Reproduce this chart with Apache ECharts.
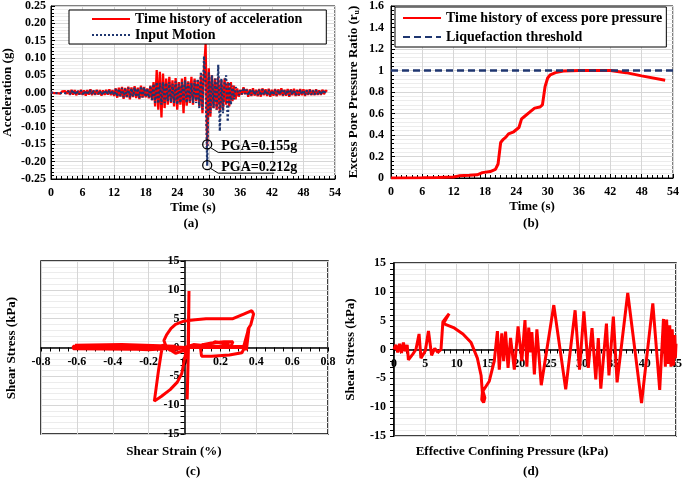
<!DOCTYPE html>
<html><head><meta charset="utf-8">
<script src="https://cdn.jsdelivr.net/npm/echarts@6/dist/echarts.min.js"></script>
<style>html,body{margin:0;padding:0;background:#fff}#c{width:685px;height:480px}</style>
</head><body><div id="c"></div>
<script>
// ---------- DATA ----------
const accDt = 0.3; // sampling step of digitised records (s)
const accRed = [
0, 0.002, -0.002, 0.003, -0.002, 0.002, -0.003, 0.003, -0.002, 0.004, -0.004,
0.006,-0.007,0.008,-0.006,0.007,-0.008,0.005,-0.006,0.008,-0.007,
0.006,-0.009,0.007,-0.006,0.009,-0.008,0.006,-0.007,0.008,-0.006,
0.007,-0.009,0.006,-0.007,0.008,-0.006,0.009,-0.008,0.007,-0.010,
0.012,-0.015,0.014,-0.012,0.016,-0.018,0.013,-0.014,0.017,-0.02,
0.015,-0.013,0.018,-0.016,0.014,-0.019,0.02,-0.015,0.016,-0.014,
0.012,-0.017,0.02,-0.022,
0.03,-0.04,0.065,-0.05,0.06,-0.072,0.055,-0.045,0.04,-0.035,
0.045,-0.03,0.035,-0.04,0.042,-0.05,0.03,-0.035,0.04,-0.06,
0.045,-0.038,0.032,-0.03,0.045,-0.035,0.04,-0.025,0.035,-0.04,
0.05,-0.06,0.07,0.14,-0.155,0.07,-0.07,
0.05,-0.045,0.04,-0.05,0.045,-0.055,0.035,-0.05,0.04,-0.035,0.03,-0.04,0.03,-0.025,0.02,-0.02,
0.012,-0.012,0.008,-0.006,0.015,-0.005,0.01,-0.012,0.009,-0.01,
0.012,-0.009,0.008,-0.011,0.01,-0.012,0.012,-0.008,0.009,-0.01,
0.011,-0.012,0.008,-0.009,0.01,-0.011,0.009,-0.008,0.012,-0.01,
0.008,-0.009,0.01,-0.012,0.009,-0.008,0.011,-0.01,0.008,-0.009,
0.01,-0.008,0.009,-0.01,0.008,-0.007,0.009,-0.008,0.007,-0.008,
0.009,-0.007,0.006,-0.007,0.008,-0.005,0.006,0.003
];
const accInput = [
0, 0.001, -0.001, 0.002, -0.002, 0.001, -0.002, 0.002, -0.001, 0.002, -0.003,
0.004,-0.005,0.006,-0.004,0.005,-0.006,0.004,-0.005,0.006,-0.005,
0.004,-0.006,0.005,-0.004,0.007,-0.006,0.005,-0.005,0.006,-0.004,
0.005,-0.007,0.004,-0.005,0.006,-0.005,0.007,-0.006,0.005,-0.008,
0.01,-0.012,0.011,-0.01,0.013,-0.014,0.01,-0.012,0.014,-0.015,
0.012,-0.011,0.015,-0.013,0.012,-0.016,0.018,-0.014,0.015,-0.013,
0.012,-0.015,0.02,-0.022,
0.025,-0.03,0.03,-0.032,0.028,-0.035,0.03,-0.03,0.028,-0.025,
0.03,-0.028,0.025,-0.03,0.032,-0.035,0.025,-0.03,0.03,-0.025,
0.035,-0.03,0.028,-0.025,0.027,-0.03,0.035,-0.03,0.04,-0.045,
0.06,-0.05,0.105,0.02,-0.212,0.06,-0.06,
0.05,-0.045,0.04,-0.05,0.08,-0.112,0.04,-0.06,0.03,0.05,-0.085,0.03,-0.035,0.02,-0.02,0.015,
0.008,-0.008,0.006,-0.005,0.014,-0.004,0.008,-0.009,0.007,-0.008,
0.009,-0.007,0.006,-0.008,0.008,-0.009,0.009,-0.006,0.007,-0.008,
0.008,-0.009,0.006,-0.007,0.008,-0.008,0.007,-0.006,0.009,-0.008,
0.006,-0.007,0.008,-0.009,0.007,-0.006,0.008,-0.008,0.006,-0.007,
0.008,-0.006,0.007,-0.008,0.006,-0.005,0.007,-0.006,0.005,-0.006,
0.007,-0.005,0.005,-0.006,0.006,-0.004,0.005,0.002
];
const pgaTime = [29.7, 29.7];
const pgaAcc = [-0.15, -0.21];
const pgaLabels = ['PGA=0.155g', 'PGA=0.212g'];

const ruTime = [0,6,9,12,13,15,16.5,17.5,19,20,20.5,21,21.5,22,22.5,23.5,24.5,25,25.5,26.5,27.5,28.5,29,29.5,30,30.5,31.5,33,36,42,45,48,52.5];
const ruValue = [0,0.003,0.005,0.01,0.02,0.025,0.03,0.05,0.06,0.08,0.13,0.33,0.36,0.38,0.41,0.43,0.47,0.55,0.57,0.61,0.65,0.66,0.68,0.85,0.93,0.96,0.98,0.995,1.0,1.0,0.98,0.95,0.91];
const thresholdTime = [0, 54];
const thresholdValue = [1, 1];

const strainC = [0,-0.3,-0.62,-0.62,-0.3,-0.05,-0.35,-0.61,-0.5,-0.2,0,-0.28,-0.6,-0.45,-0.15,0,
0.02,0.025,0.022,0.015,0.02,0,
-0.05,-0.1,-0.115,-0.1,-0.075,-0.05,0,0.06,0.12,0.2,0.27,0.33,0.375,0.385,0.37,0.355,0.345,0.335,0.32,0.25,0.15,0.095,0.09,0.1,0.15,0.22,0.27,0.26,0.18,0.14,0.17,0.25,0.2,0.12,0.05,0,
0.34,0.36,0.345,0.355,0.33,0.2,0.05,0,
-0.08,-0.12,-0.13,-0.145,-0.158,-0.168,-0.13,-0.08,-0.04,-0.015,0,0.01,0];
const stressC = [0,0.3,0.2,-0.2,-0.3,0.2,0.5,0.4,0,-0.4,0,0.2,0.1,0.4,0.3,0,
0,9.8,0,-9,-2,-0.5,
-1,0,1.2,2.2,3.3,4.0,4.6,4.8,5,5,5,5.8,6.4,5.8,4,3.2,1.5,0,-0.9,-1.3,-1.5,-1.5,-0.3,0.5,0.8,1,1,0.3,0.1,0.5,1,0.5,0.2,0.3,0.5,0,
0,3.5,-0.5,3,0.2,0.1,0,0,
-0.5,0.5,-1,-4,-7,-9.3,-8.5,-7.3,-6,-4.5,-2,-0.5,0];

const pressD = [0,0.3,0.6,0.9,1.2,1.5,1.8,2.1,2.3,3,3.5,4,4.3,5,5.5,6,6.5,7,7.5,7.8,8.3,8.8,8.3,7.9,9.5,11,12.3,13.3,13.9,14.1,14,14.3,14.5,14.2,15.2,16,16.5,16.8,17.2,17.5,17.8,18.2,18.6,19.2,19.8,20.4,20.9,21.2,21.5,21.8,22,22.4,22.8,23.5,25.5,27.4,28.9,29.6,30.3,31,31.6,32.2,32.6,33,33.9,34.3,35,35.6,37.3,39.5,41.3,42.4,43,43.3,43.5,43.8,44,44.2,44.4,44.6,44.8,44.9,45];
const stressD = [0,0.8,-0.5,1,-0.6,1.2,-0.3,0.8,-1.8,-0.8,0,2.7,-1.5,-0.2,3.2,-1,0.2,-0.5,0,4.8,5.5,6.2,5.3,4.5,3.8,2.7,1.2,-1.5,-4.5,-7.5,-8.7,-9.2,-8.4,-7.2,-5.5,-2,3.2,-3.5,2.8,-2,3.1,-3.2,2,-3.5,4,-2,5.1,-3,3.8,-0.5,3,-4.3,3.5,-6.2,7.7,-6.9,6.8,-3.5,6.6,-3.2,3.7,-5.2,2,-6.8,4.5,-4.5,5.7,-5.7,9.8,-9.3,8,-7,5.3,-3,5.2,-2.5,4.2,-3,3.5,-2.8,2.5,-1.5,1];

// ---------- STYLE ----------
const FF = "'Liberation Serif','Times New Roman',serif";
const RED = '#ff0000', NAVY = '#1f3670';
const lab = {fontFamily: FF, fontWeight: 'bold', fontSize: 12, color: '#000'};
const nameStyle = {fontFamily: FF, fontWeight: 'bold', fontSize: 13, color: '#000'};
const majGrid = {show: true, lineStyle: {color: '#d6d6d6', width: 1}};
const minGrid = {show: true, lineStyle: {color: '#ececec', width: 1}};

const G = [
  {left: 51, top: 6, width: 284, height: 173},
  {left: 391, top: 6, width: 282, height: 172},
  {left: 41, top: 261, width: 287, height: 173},
  {left: 394, top: 263, width: 284, height: 173}
];

function axis(o) {
  return Object.assign({
    type: 'value',
    axisLine: {show: true, onZero: false, lineStyle: {color: '#000', width: 1}},
    axisTick: {show: true, inside: true, length: 4, lineStyle: {color: '#000'}},
    minorTick: {show: true, length: 3, lineStyle: {color: '#000'}},
    splitLine: majGrid,
    axisLabel: Object.assign({margin: 7}, lab),
    nameTextStyle: nameStyle
  }, o);
}
const crossTick = {show: true, inside: false, length: 4, lineStyle: {color: '#000'}};
const thickLine = {show: true, onZero: false, lineStyle: {color: '#000', width: 1.5}};

const pair = (xs, ys) => xs.map((x, i) => [x, ys[i]]);
const txt = (x, y, t, rot) => ({type: 'text', x: x, y: y, rotation: rot || 0,
  style: {text: t, align: 'center', verticalAlign: 'middle', textAlign: 'center', textVerticalAlign: 'middle', font: 'bold 13px ' + FF, fill: '#000'}});
const legendText = {fontFamily: FF, fontWeight: 'bold', fontSize: 14, color: '#000'};

const chart = echarts.init(document.getElementById('c'), null, {renderer: 'canvas'});
chart.setOption({
  animation: false,
  backgroundColor: '#fff',
  textStyle: {fontFamily: FF},
  grid: [
    Object.assign({show: true, borderColor: '#000', borderWidth: 1}, G[0]),
    Object.assign({show: true, borderColor: '#000', borderWidth: 1}, G[1]),
    Object.assign({show: true, borderColor: '#000', borderWidth: 1.5}, G[2]),
    Object.assign({show: true, borderColor: '#000', borderWidth: 1.5}, G[3])
  ],
  xAxis: [
    axis({gridIndex: 0, min: 0, max: 54, interval: 6,
      minorTick: {show: true, splitNumber: 6, length: 3, lineStyle: {color: '#000'}},
      axisLabel: Object.assign({margin: 8}, lab),
      name: 'Time (s)', nameLocation: 'middle', nameGap: 22}),
    axis({gridIndex: 1, min: 0, max: 54, interval: 6,
      minorTick: {show: true, splitNumber: 6, length: 3, lineStyle: {color: '#000'}},
      axisLabel: Object.assign({margin: 8}, lab),
      name: 'Time (s)', nameLocation: 'middle', nameGap: 22}),
    axis({gridIndex: 2, min: -0.8, max: 0.8, interval: 0.2, position: 'bottom', offset: -G[2].height / 2,
      axisLine: thickLine, axisTick: crossTick,
      minorTick: {show: true, splitNumber: 4, length: 4, lineStyle: {color: '#000'}},
      axisLabel: Object.assign({margin: 8}, lab)}),
    axis({gridIndex: 3, min: 0, max: 45, interval: 5, position: 'bottom', offset: -G[3].height / 2,
      axisLine: thickLine, axisTick: crossTick,
      minorTick: {show: true, splitNumber: 5, length: 4, lineStyle: {color: '#000'}},
      axisLabel: Object.assign({margin: 8}, lab)})
  ],
  yAxis: [
    axis({gridIndex: 0, min: -0.25, max: 0.25, interval: 0.05,
      minorTick: {show: true, splitNumber: 5, length: 3, lineStyle: {color: '#000'}},
      minorSplitLine: minGrid,
      axisLabel: Object.assign({margin: 5, formatter: v => v.toFixed(2)}, lab),
      name: 'Acceleration (g)', nameLocation: 'middle', nameGap: 37}),
    axis({gridIndex: 1, min: 0, max: 1.6, interval: 0.2,
      minorTick: {show: true, splitNumber: 5, length: 3, lineStyle: {color: '#000'}},
      minorSplitLine: minGrid,
      axisLabel: Object.assign({margin: 7}, lab),
      name: '{a|Excess Pore Pressure Ratio (r}{s|u}{a|)}', nameLocation: 'middle', nameGap: 30,
      nameTextStyle: {rich: {
        a: {fontFamily: FF, fontWeight: 'bold', fontSize: 13, color: '#000'},
        s: {fontFamily: FF, fontWeight: 'bold', fontSize: 8, color: '#000', padding: [6, 0, 0, 0]}
      }}}),
    axis({gridIndex: 2, min: -15, max: 15, interval: 5, position: 'left', offset: -G[2].width / 2,
      axisLine: thickLine, axisTick: crossTick,
      minorTick: {show: true, splitNumber: 5, length: 4, lineStyle: {color: '#000'}},
      minorSplitLine: minGrid,
      axisLabel: Object.assign({margin: 5}, lab)}),
    axis({gridIndex: 3, min: -15, max: 15, interval: 5,
      axisLine: thickLine, axisTick: crossTick,
      minorTick: {show: true, splitNumber: 5, length: 4, lineStyle: {color: '#000'}},
      minorSplitLine: minGrid,
      axisLabel: Object.assign({margin: 8}, lab),
      name: 'Shear Stress (kPa)', nameLocation: 'middle', nameGap: 37})
  ],
  legend: [
    {data: ['Time history of acceleration', 'Input Motion'], left: 69, top: 10, orient: 'vertical',
      itemWidth: 38, itemHeight: 10, itemGap: 2, padding: [2, 24, 2, 22],
      itemStyle: {opacity: 0},
      borderColor: '#000', borderWidth: 1, backgroundColor: '#fff', textStyle: legendText},
    {data: ['Time history of excess pore pressure', 'Liquefaction threshold'], left: 395, top: 7, orient: 'vertical',
      itemWidth: 38, itemHeight: 10, itemGap: 5, padding: [4, 4, 3, 7],
      itemStyle: {opacity: 0},
      borderColor: '#000', borderWidth: 1, backgroundColor: '#fff', textStyle: legendText}
  ],
  graphic: [
    txt(191, 224, '(a)'), txt(531, 224, '(b)'), txt(193, 472, '(c)'), txt(531, 472, '(d)'),
    txt(174, 452, 'Shear Strain (%)'),
    txt(512, 452, 'Effective Confining Pressure (kPa)'),
    txt(12, 348, 'Shear Stress (kPa)', Math.PI / 2)
  ],
  series: [
    {name: 'Time history of acceleration', type: 'line', xAxisIndex: 0, yAxisIndex: 0, symbol: 'none',
      data: accRed.map((v, i) => [+(i * accDt).toFixed(2), v]),
      lineStyle: {color: RED, width: 2.3}, itemStyle: {color: RED}, z: 3},
    {name: 'Input Motion', type: 'line', xAxisIndex: 0, yAxisIndex: 0, symbol: 'none',
      data: accInput.map((v, i) => [+(i * accDt).toFixed(2), v]),
      lineStyle: {color: NAVY, width: 2.2, type: 'dotted'}, itemStyle: {color: NAVY}, z: 4},
    {type: 'custom', xAxisIndex: 0, yAxisIndex: 0, z: 10, silent: true,
      data: pair(pgaTime, pgaAcc),
      renderItem: function (params, api) {
        const p = api.coord([api.value(0), api.value(1)]);
        const t = pgaLabels[params.dataIndex];
        return {type: 'group', children: [
          {type: 'circle', shape: {cx: p[0], cy: p[1], r: 4.5}, style: {fill: 'none', stroke: '#000', lineWidth: 1.3}},
          {type: 'polyline', shape: {points: [[p[0] + 3, p[1] + 3], [p[0] + 11, p[1] + 8], [p[0] + 67, p[1] + 8]]}, style: {fill: 'none', stroke: '#000', lineWidth: 1}},
          {type: 'text', style: {text: t, x: p[0] + 14, y: p[1] + 9, textVerticalAlign: 'bottom', verticalAlign: 'bottom', font: 'bold 14px ' + FF, fill: '#000'}}
        ]};
      }},
    {name: 'Time history of excess pore pressure', type: 'line', xAxisIndex: 1, yAxisIndex: 1, symbol: 'none',
      data: pair(ruTime, ruValue), lineStyle: {color: RED, width: 3}, itemStyle: {color: RED}, z: 3},
    {name: 'Liquefaction threshold', type: 'line', xAxisIndex: 1, yAxisIndex: 1, symbol: 'none',
      data: pair(thresholdTime, thresholdValue), lineStyle: {color: NAVY, width: 2.5, type: [7, 4]}, itemStyle: {color: NAVY}, z: 4},
    {name: 'loopC', type: 'line', xAxisIndex: 2, yAxisIndex: 2, symbol: 'none',
      data: pair(strainC, stressC), lineStyle: {color: RED, width: 3}, z: 3},
    {name: 'pathD', type: 'line', xAxisIndex: 3, yAxisIndex: 3, symbol: 'none',
      data: pair(pressD, stressD), lineStyle: {color: RED, width: 3}, z: 3}
  ]
});
</script></body></html>
